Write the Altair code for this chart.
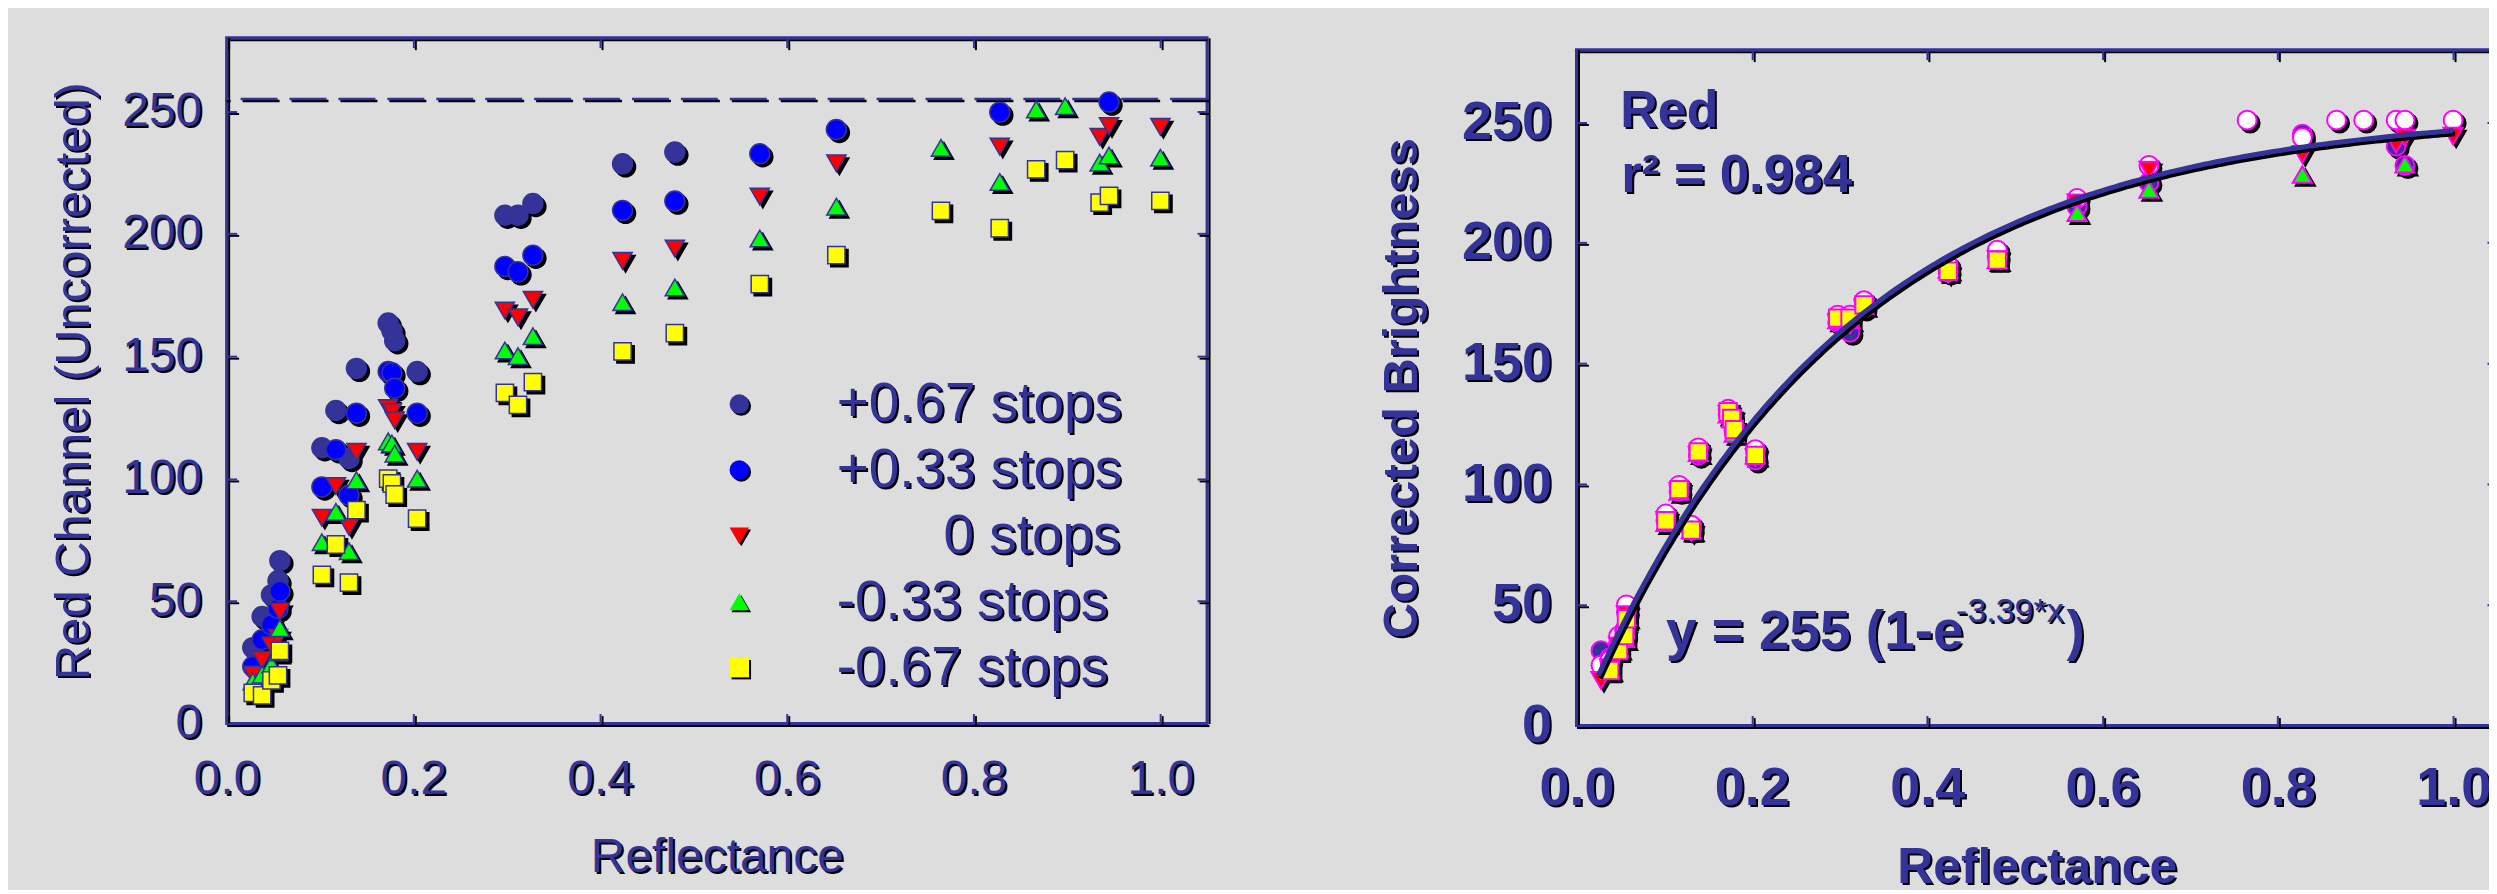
import altair as alt
import pandas as pd

NAVY = "#333399"
MAGENTA = "#ff00ff"
BG = "#dddddd"
FONT = "Liberation Sans"

# ---------------- data ----------------
reflectance = [0.028, 0.038, 0.048, 0.055, 0.057, 0.102, 0.117, 0.131, 0.139,
               0.173, 0.177, 0.180, 0.204, 0.298, 0.312, 0.328, 0.424, 0.480,
               0.571, 0.653, 0.765, 0.828, 0.867, 0.898, 0.935, 0.945, 1.000]

series_labels = ["+0.67 stops", "+0.33 stops", "0 stops", "-0.33 stops", "-0.67 stops"]

uncorrected_p067 = [31.0, 43.7, 52.5, 58.3, 66.5, 112.6, 127.8, 108.2, 145.0, 163.5, 160.4, 156.3, 143.7,
                    207.5, 207.5, 212.3, 228.5, 233.3, None, None, None, None, None, None, None, None, None]
uncorrected_p033 = [23.3, 34.2, 40.3, 47.0, 54.0, 96.6, 111.8, 93.2, 126.7, 143.7, 143.2, 136.9, 126.7,
                    186.6, 184.4, 191.2, 209.5, 213.3, 232.6, 242.5, None, 249.6, None, None, None, 253.7, None]
uncorrected_0 = [20.0, 26.0, 31.9, 35.0, 45.7, 84.0, 97.0, 80.3, 110.9, 128.8, 127.2, 123.8, 110.9,
                 168.6, 165.8, 173.0, 188.9, 193.9, 215.1, 228.7, None, 235.5, None, None, 239.5, 243.9, 243.6]
uncorrected_m033 = [17.2, 20.0, 24.0, 29.0, 38.9, 74.0, 86.4, 70.4, 99.3, 115.2, 114.3, 110.2, 100.0,
                    152.3, 150.0, 158.1, 172.0, 178.0, 198.0, 211.0, 235.0, 221.1, 250.7, 252.0, 229.0, 231.9, 231.0]
uncorrected_m067 = [12.5, 11.5, 17.6, 19.7, 29.7, 60.7, 73.1, 57.5, 87.1, 100.0, 98.0, 93.5, 83.7,
                    135.0, 130.1, 139.4, 151.9, 159.4, 179.4, 191.2, 209.3, 202.2, 226.2, 230.0, 212.7, 215.4, 213.4]

corrected_labels = ["+0.67 corrected", "+0.33 corrected", "0 corrected", "-0.33 corrected", "-0.67 corrected"]
corrected_p067 = [25.0, 27.0, 37.0, 38.0, 50.0, 87.6, 99.5, 83.0, 115.0, 131.0, 128.0, 123.0, 114.3,
                  170.0, 170.0, 176.0, 190.6, 196.9, 218.3, 232.0, 250.8, 243.5, 250.8, 250.8, 250.8, 250.8, 250.8]
corrected_p033 = [31.0, 28.0, 34.0, 37.0, 47.0, 85.0, 97.0, 81.0, 112.0, 129.0, 126.0, 121.0, 110.0,
                  167.0, 162.9, 173.0, 188.0, 194.0, 215.0, 225.0, None, 245.0, None, None, 240.0, 232.0, None]
corrected_0 = [18.7, 24.0, 33.0, 36.0, 46.0, 85.0, 97.0, 80.0, 112.0, 129.0, 127.0, 121.0, 111.0,
               167.0, 166.0, 173.0, 187.0, 193.0, 216.6, 230.1, None, 236.6, None, None, 240.8, 243.5, 244.2]
corrected_m033 = [None, 23.0, 32.0, 36.0, 45.0, 84.0, 97.0, 81.0, 113.0, 129.0, 127.0, 121.0, 112.0,
                  168.0, 168.0, 174.0, 189.0, 193.0, 212.5, 222.1, None, 228.3, None, None, None, 232.5, None]
corrected_m067 = [None, 22.8, 31.1, 37.3, 44.2, 84.8, 97.7, 81.0, 113.4, 130.0, 127.2, 122.6, 111.9,
                  168.8, 168.8, 174.3, 188.2, 192.8, None, None, None, None, None, None, None, None, None]

saturation_level = [255]
fit_amplitude = 255
fit_rate = 3.39

x_ticks = [0.0, 0.2, 0.4, 0.6, 0.8, 1.0]
y_ticks = [0, 50, 100, 150, 200, 250]

ann_bold_text = ["Red", "r\u00b2 = 0.984", "y = 255 (1-e", ")"]
ann_bold_x = [0.050, 0.051, 0.102, 0.559]
ann_bold_y = [247.8, 220.9, 31.7, 31.7]
ann_bold_size = [52, 53, 55, 55]
ann_sup_text = ["-3.39*x"]
ann_sup_x = [0.433]
ann_sup_y = [42.8]
ann_sup_size = [34]

# ---------------- styles ----------------
shapes = ["circle", "circle", "triangle-down", "triangle-up", "square"]
left_sizes = [400, 400, 370, 370, 300]
right_sizes = [360, 360, 370, 370, 300]
left_fill = [NAVY, "#0000ff", "#ff0000", "#00ff00", "#ffff00"]
right_fill = ["#ffffff", NAVY, "#ff0000", "#00ff00", "#ffff00"]

LW, LH = 982, 687
RW, RH = 922, 677


def long_df(labels, values_list, order, field):
    rows = []
    for k in order:
        for xv, yv in zip(reflectance, values_list[k]):
            if yv is not None:
                rows.append({"x": xv, "y": yv, field: labels[k]})
    return pd.DataFrame(rows)


left_df = long_df(series_labels,
                  [uncorrected_p067, uncorrected_p033, uncorrected_0, uncorrected_m033, uncorrected_m067],
                  [0, 1, 2, 3, 4], "series")
left_df["series_s"] = left_df["series"]
right_df = long_df(corrected_labels,
                   [corrected_p067, corrected_p033, corrected_0, corrected_m033, corrected_m067],
                   [1, 0, 2, 3, 4], "sr")

xs = alt.Scale(domain=[0, 1.05], nice=False, zero=False)
ys = alt.Scale(domain=[0, 280], nice=False, zero=False)


def tick_axis(orient, color, offset, tick_offset, labels=False, **kw):
    horiz = orient in ("top", "bottom")
    base = dict(orient=orient, values=x_ticks if horiz else y_ticks,
                format=".1f" if horiz else "d", domain=False, ticks=True,
                tickSize=10, tickWidth=2, tickColor=color, offset=offset,
                tickOffset=tick_offset, labels=labels, grid=False, minExtent=0,
                maxExtent=400, labelFlush=False, labelOverlap=False, title=None)
    base.update(kw)
    return alt.Axis(**base)


def frame_axis(orient, offset):
    return alt.Axis(orient=orient, domain=True, domainColor="black", domainWidth=2,
                    ticks=False, labels=False, grid=False, title=None, offset=offset,
                    minExtent=0, maxExtent=400)


def axis_layer(df, xa, ya):
    return alt.Chart(df).mark_point(opacity=0).encode(
        x=alt.X("x:Q", scale=xs, axis=xa),
        y=alt.Y("y:Q", scale=ys, axis=ya))


def axis_layers(df, W, H, lab):
    xl = dict(labelFont=FONT, labelFontSize=lab["xfs"], labelFontWeight=lab["w"],
              labelPadding=lab["xlp"], title=lab["xt"], titleFont=FONT,
              titleFontSize=lab["xtfs"], titleFontWeight=lab["w"], titlePadding=lab["xtp"])
    yl = dict(labelFont=FONT, labelFontSize=lab["yfs"], labelFontWeight=lab["w"],
              labelPadding=lab["ylp"], title=lab["yt"], titleFont=FONT,
              titleFontSize=lab["ytfs"], titleFontWeight=lab["w"], titlePadding=lab["ytp"])
    return [
        axis_layer(df, frame_axis("bottom", 2), frame_axis("left", -2)),
        axis_layer(df, frame_axis("top", -2), frame_axis("right", 2)),
        axis_layer(df,
                   tick_axis("bottom", "black", -8, 2, True, labelColor="black",
                             titleColor="black", titleX=W / 2 + 2, **xl),
                   tick_axis("left", "black", -12, 2, True, labelColor="black",
                             titleColor="black", titleY=H / 2 + 2, **yl)),
        axis_layer(df, tick_axis("top", "black", -12, 2), tick_axis("right", "black", -8, 2)),
        axis_layer(df,
                   tick_axis("bottom", NAVY, -10, 0, True, labelColor=NAVY, titleColor=NAVY, **xl),
                   tick_axis("left", NAVY, -10, 0, True, labelColor=NAVY, titleColor=NAVY, **yl)),
        axis_layer(df, tick_axis("top", NAVY, -10, 0), tick_axis("right", NAVY, -10, 0)),
    ]


# ---------------- left panel ----------------
# a zero-width char keeps the non-breaking spaces from being trimmed
pad = "\u200b" + "\u00a0" * 7
lbl_expr = f"datum.value === '0 stops' ? '{pad}0 stops' : datum.label"
legend_common = dict(title=None, orient="none", direction="vertical", symbolSize=380,
                     symbolStrokeWidth=1.5, symbolOpacity=1, labelFont=FONT, labelFontSize=55,
                     labelFontWeight="normal", labelOffset=70, labelLimit=2000, rowPadding=10,
                     padding=0, labelExpr=lbl_expr)
legend_main = alt.Legend(legendX=486, legendY=339.5, symbolStrokeColor=NAVY, labelColor=NAVY,
                         zindex=2, **legend_common)
legend_shadow = alt.Legend(legendX=488, legendY=341.5, symbolStrokeColor="black",
                           symbolFillColor="black", labelColor="black", zindex=1, **legend_common)

left_lab = dict(xfs=48, yfs=48, w="normal", xlp=32, ylp=25, xt="Reflectance", xtfs=48, xtp=30,
                yt="Red Channel (Uncorrected)", ytfs=49, ytp=23)

sat_df = pd.DataFrame({"y": saturation_level})
rule_sh = alt.Chart(sat_df).mark_rule(color="black", strokeWidth=2.5, strokeDash=[37, 12],
                                      yOffset=2, xOffset=2).encode(
    y=alt.Y("y:Q", scale=ys, axis=None))
rule = alt.Chart(sat_df).mark_rule(color=NAVY, strokeWidth=2.5, strokeDash=[37, 12]).encode(
    y=alt.Y("y:Q", scale=ys, axis=None))

size_scale_l = alt.Scale(type="ordinal", domain=series_labels, range=left_sizes)
pts_sh = alt.Chart(left_df).mark_point(filled=True, opacity=1, color="black", stroke="black",
                                       strokeWidth=1.5, xOffset=3, yOffset=3).encode(
    x=alt.X("x:Q", scale=xs, axis=None),
    y=alt.Y("y:Q", scale=ys, axis=None),
    shape=alt.Shape("series_s:N", scale=alt.Scale(domain=series_labels, range=shapes),
                    legend=legend_shadow),
    size=alt.Size("series_s:N", scale=size_scale_l, legend=None))
pts = alt.Chart(left_df).mark_point(filled=True, opacity=1, stroke=NAVY, strokeWidth=1.5).encode(
    x=alt.X("x:Q", scale=xs, axis=None),
    y=alt.Y("y:Q", scale=ys, axis=None),
    fill=alt.Fill("series:N", scale=alt.Scale(domain=series_labels, range=left_fill),
                  legend=legend_main),
    shape=alt.Shape("series:N", scale=alt.Scale(domain=series_labels, range=shapes),
                    legend=legend_main),
    size=alt.Size("series:N", scale=size_scale_l, legend=None))

left = alt.layer(
    *axis_layers(left_df, LW, LH, left_lab),
    rule_sh, rule, pts_sh, pts
).properties(width=LW, height=LH).resolve_scale(
    shape="independent", fill="independent"
).resolve_axis(x="independent", y="independent")

# ---------------- right panel ----------------
right_lab = dict(xfs=54, yfs=54, w="bold", xlp=36, ylp=25, xt="Reflectance", xtfs=50, xtp=27,
                 yt="Corrected Brightness", ytfs=49, ytp=35)

size_scale_r = alt.Scale(type="ordinal", domain=corrected_labels, range=right_sizes)
shape_scale_r = alt.Scale(domain=corrected_labels, range=shapes)
rpts_sh = alt.Chart(right_df).mark_point(filled=True, opacity=1, color="black", stroke="black",
                                         strokeWidth=2, xOffset=3, yOffset=3).encode(
    x=alt.X("x:Q", scale=xs, axis=None),
    y=alt.Y("y:Q", scale=ys, axis=None),
    shape=alt.Shape("sr:N", scale=shape_scale_r, legend=None),
    size=alt.Size("sr:N", scale=size_scale_r, legend=None))
rpts = alt.Chart(right_df).mark_point(filled=True, opacity=1, stroke=MAGENTA, strokeWidth=2).encode(
    x=alt.X("x:Q", scale=xs, axis=None),
    y=alt.Y("y:Q", scale=ys, axis=None),
    fill=alt.Fill("sr:N", scale=alt.Scale(domain=corrected_labels, range=right_fill), legend=None),
    shape=alt.Shape("sr:N", scale=shape_scale_r, legend=None),
    size=alt.Size("sr:N", scale=size_scale_r, legend=None))

curve_base = alt.Chart(alt.sequence(0.025, 1.0001, 0.005, as_="x")).transform_calculate(
    y=f"{fit_amplitude} * (1 - exp(-{fit_rate} * datum.x))")
curve_sh = curve_base.mark_line(color="black", strokeWidth=5, xOffset=2, yOffset=3).encode(
    x=alt.X("x:Q", scale=xs, axis=None), y=alt.Y("y:Q", scale=ys, axis=None))
curve = curve_base.mark_line(color=NAVY, strokeWidth=5).encode(
    x=alt.X("x:Q", scale=xs, axis=None), y=alt.Y("y:Q", scale=ys, axis=None))

ann_bold = pd.DataFrame({"x": ann_bold_x, "y": ann_bold_y, "t": ann_bold_text, "fs": ann_bold_size})
ann_sup = pd.DataFrame({"x": ann_sup_x, "y": ann_sup_y, "t": ann_sup_text, "fs": ann_sup_size})


def text_layers(df, weight):
    enc = dict(x=alt.X("x:Q", scale=xs, axis=None), y=alt.Y("y:Q", scale=ys, axis=None),
               text="t:N", size=alt.Size("fs:Q", scale=None, legend=None))
    sh = alt.Chart(df).mark_text(align="left", baseline="alphabetic", font=FONT,
                                 fontWeight=weight, color="black", dx=2, dy=2).encode(**enc)
    mn = alt.Chart(df).mark_text(align="left", baseline="alphabetic", font=FONT,
                                 fontWeight=weight, color=NAVY).encode(**enc)
    return [sh, mn]


right = alt.layer(
    *axis_layers(right_df, RW, RH, right_lab),
    rpts_sh, rpts, curve_sh, curve,
    *text_layers(ann_bold, "bold"), *text_layers(ann_sup, "normal")
).properties(width=RW, height=RH).resolve_axis(x="independent", y="independent")

# thin invisible strip that lowers the right panel below the left one
spacer = alt.Chart(pd.DataFrame({"v": [0]})).mark_point(opacity=0, size=1).properties(
    width=RW, height=1, view=alt.ViewBackground(strokeOpacity=0))
right_col = alt.vconcat(spacer, right, spacing=8)

chart = alt.hconcat(left, right_col, spacing=164).resolve_scale(
    fill="independent", shape="independent", size="independent"
).properties(
    background=BG,
    padding={"left": 40, "top": 26, "right": -13, "bottom": -7}
).configure(font=FONT).configure_view(stroke=NAVY, strokeWidth=3)

chart.save("out.html", embed_options={"renderer": "svg", "actions": False})
